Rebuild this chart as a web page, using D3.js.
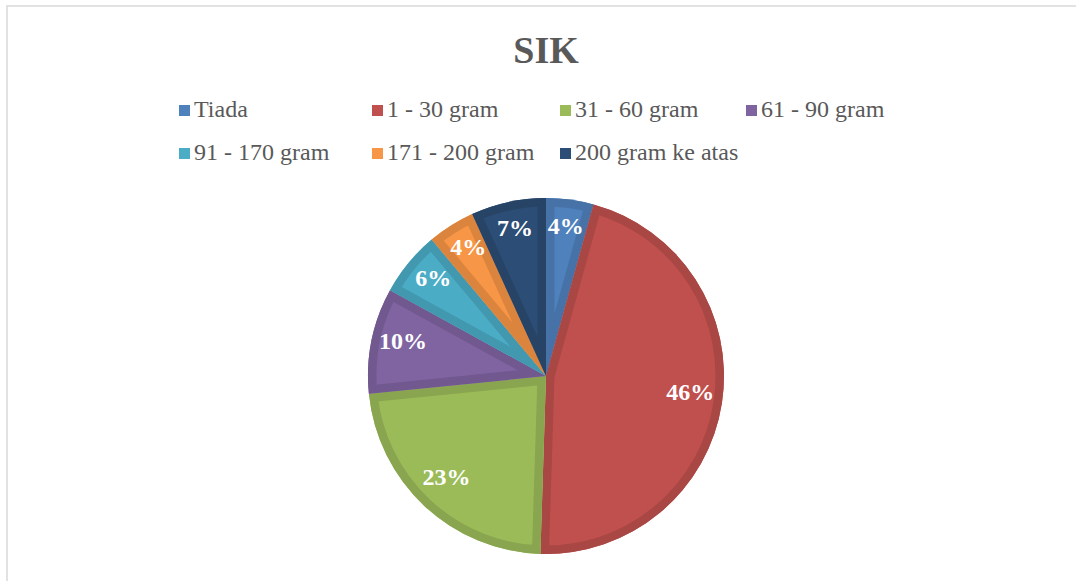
<!DOCTYPE html>
<html>
<head>
<meta charset="utf-8">
<script src="https://cdn.jsdelivr.net/npm/d3@7"></script>
<style>
  body { margin: 0; background: #fff; }
  svg { display: block; }
</style>
</head>
<body>
<script>
// Pie chart "SIK" - Excel style with bevel band

const categories = ["Tiada", "1 - 30 gram", "31 - 60 gram", "61 - 90 gram",
  "91 - 170 gram", "171 - 200 gram", "200 gram ke atas"];
const values = [4.3, 46.2, 22.9, 9.6, 5.9, 4.3, 6.8];
const valueLabels = ["4%", "46%", "23%", "10%", "6%", "4%", "7%"];

const colors = ["#4F81BD", "#C0504D", "#9BBB59", "#8064A2", "#4BACC6", "#F79646", "#2C4D75"];

const width = 1076, height = 581;
const cx = 546, cy = 376, radius = 178;
const serif = "'Liberation Serif', 'Times New Roman', serif";

const svg = d3.select("body").append("svg")
  .attr("width", width)
  .attr("height", height);

// chart border
svg.append("rect")
  .attr("x", 7).attr("y", 6)
  .attr("width", width + 10).attr("height", height + 10)
  .attr("fill", "none")
  .attr("stroke", "#D9D9D9")
  .attr("stroke-width", 1.5);

svg.append("text")
  .attr("x", cx).attr("y", 63)
  .attr("text-anchor", "middle")
  .attr("font-family", serif)
  .attr("font-weight", "bold")
  .attr("font-size", "38px")
  .attr("fill", "#595959")
  .text("SIK");

// legend
const legendCols = [179, 372, 560, 746];
const legendRows = [111, 154];
const legend = svg.append("g");
categories.forEach((name, i) => {
  const col = legendCols[i % 4];
  const row = legendRows[Math.floor(i / 4)];
  legend.append("rect")
    .attr("x", col).attr("y", row - 6)
    .attr("width", 11).attr("height", 11)
    .attr("fill", colors[i]);
  legend.append("text")
    .attr("x", col + 15).attr("y", row)
    .attr("dominant-baseline", "middle")
    .attr("font-family", serif)
    .attr("font-size", "24px")
    .attr("fill", "#595959")
    .text(name);
});

const pie = d3.pie().sort(null).value(d => d);
const arcs = pie(values);
const arc = d3.arc().innerRadius(0).outerRadius(radius);
const labelArc = d3.arc().innerRadius(radius * 0.82).outerRadius(radius * 0.82);

const g = svg.append("g").attr("transform", `translate(${cx},${cy})`);
const defs = svg.append("defs");

arcs.forEach((a, i) => {
  defs.append("clipPath").attr("id", "clip" + i)
    .append("path").attr("d", arc(a));
});

const slices = g.selectAll("g.slice")
  .data(arcs)
  .enter()
  .append("g")
  .attr("class", "slice");

slices.append("path")
  .attr("d", arc)
  .attr("fill", (d, i) => colors[i]);

// darker bevel band along each slice edge
slices.append("path")
  .attr("d", arc)
  .attr("fill", "none")
  .attr("clip-path", (d, i) => `url(#clip${i})`)
  .attr("stroke", (d, i) => d3.color(colors[i]).darker(0.35))
  .attr("stroke-width", 17)
  .attr("stroke-linejoin", "miter");

g.selectAll("text.pct")
  .data(arcs)
  .enter()
  .append("text")
  .attr("class", "pct")
  .attr("transform", d => {
    const [x, y] = labelArc.centroid(d);
    return `translate(${x},${y - 3})`;
  })
  .attr("text-anchor", "middle")
  .attr("dominant-baseline", "middle")
  .attr("font-family", serif)
  .attr("font-weight", "bold")
  .attr("font-size", "24px")
  .attr("fill", "#fff")
  .text((d, i) => valueLabels[i]);
</script>
</body>
</html>
